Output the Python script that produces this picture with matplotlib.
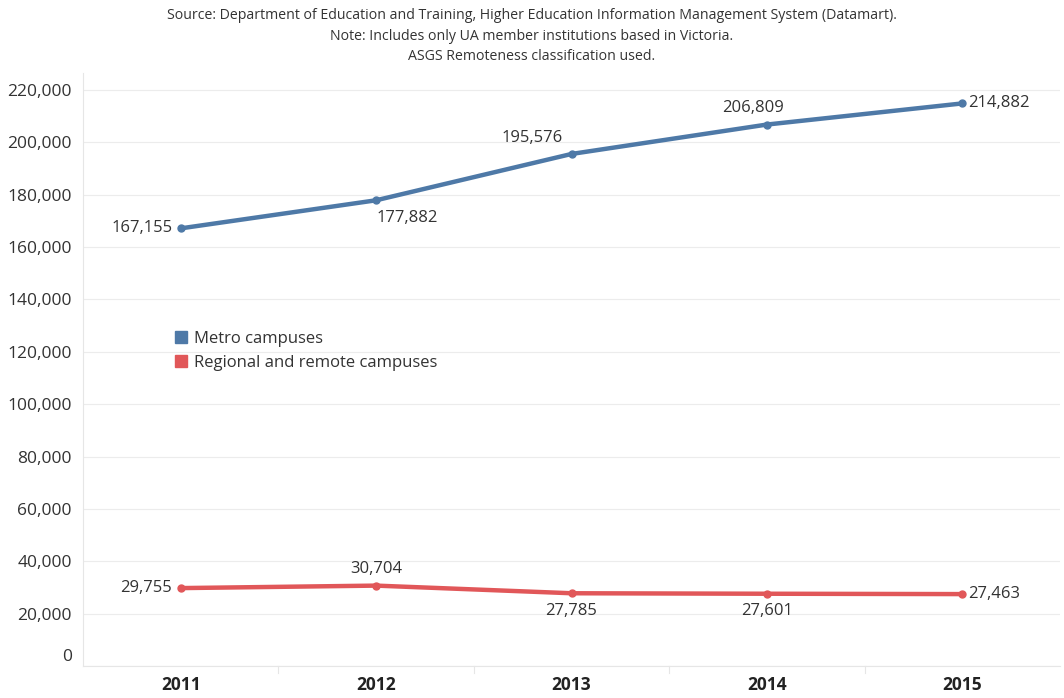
import matplotlib
matplotlib.use("Agg")
import matplotlib.pyplot as plt
from matplotlib.lines import Line2D
from matplotlib.transforms import ScaledTranslation

years = ["2011", "2012", "2013", "2014", "2015"]
metro = [167155, 177882, 195576, 206809, 214882]
regional = [29755, 30704, 27785, 27601, 27463]
yticks = list(range(0, 220001, 20000))

# label placement for each point (dx, dy in points, ha, va)
metro_pos = [(-6, 0, "right", "center"), (0, -7, "left", "top"), (-6, 6, "right", "bottom"),
             (-10, 6, "center", "bottom"), (4, 0, "left", "center")]
regional_pos = [(-6, 0, "right", "center"), (0, 6, "center", "bottom"), (0, -7, "center", "top"),
                (0, -7, "center", "top"), (4, 0, "left", "center")]

blue = "#4e79a7"
red = "#e15759"
txt = "#333333"

plt.rcParams['font.family'] = ['Open Sans', 'DejaVu Sans']

fig = plt.figure(figsize=(10.64, 6.98), dpi=100)
ax = fig.add_axes([83 / 1064, 32 / 698, 977 / 1064, 593 / 698])

x = list(range(len(years)))
ax.plot(x, metro, color=blue, lw=3.2, marker="o", ms=5, solid_capstyle="round", zorder=3)
ax.plot(x, regional, color=red, lw=3.2, marker="o", ms=5, solid_capstyle="round", zorder=3)

for i, v in enumerate(metro):
    dx, dy, ha, va = metro_pos[i]
    ax.annotate(f"{v:,}", (i, v), xytext=(dx, dy), textcoords="offset points",
                ha=ha, va=va, fontsize=12, color=txt)
for i, v in enumerate(regional):
    dx, dy, ha, va = regional_pos[i]
    ax.annotate(f"{v:,}", (i, v), xytext=(dx, dy), textcoords="offset points",
                ha=ha, va=va, fontsize=12, color=txt)

ax.set_xlim(-0.5, len(years) - 0.5)
ax.set_ylim(0, 226500)
ax.set_yticks(yticks)
ax.set_yticklabels([f"{t:,}" for t in yticks], fontsize=12.5, color=txt)
ax.set_xticks(x)
ax.set_xticklabels(years, fontsize=12.5, fontweight="bold", color="#222222")
ax.tick_params(axis="both", length=0, pad=8)
ax.tick_params(axis="x", pad=7)
ax.grid(axis="y", color="#ececec", lw=0.8)
ax.set_axisbelow(True)
for s in ["top", "right"]:
    ax.spines[s].set_visible(False)
ax.spines["left"].set_color("#e6e6e6")
ax.spines["bottom"].set_color("#e6e6e6")

# the zero label sits a little above the baseline
zero_lbl = ax.get_yticklabels()[0]
zero_lbl.set_transform(zero_lbl.get_transform() + ScaledTranslation(0, 11 / 100, fig.dpi_scale_trans))

# column dividers under the axis
for b in [i + 0.5 for i in range(len(years) - 1)]:
    ax.plot([b, b], [0, -0.012], transform=ax.get_xaxis_transform(), color="#e6e6e6",
            lw=0.8, clip_on=False)

handles = [Line2D([], [], marker="s", ls="", color=blue, ms=9),
           Line2D([], [], marker="s", ls="", color=red, ms=9)]
ax.legend(handles, ["Metro campuses", "Regional and remote campuses"], loc="upper left",
          bbox_to_anchor=(0.085, 0.577), frameon=False, fontsize=12, handletextpad=0.3,
          labelspacing=0.5, labelcolor=txt, borderaxespad=0, handlelength=1)

fig.text(0.5, 0.988, "Source: Department of Education and Training, Higher Education Information Management System (Datamart).\n"
         "Note: Includes only UA member institutions based in Victoria.\nASGS Remoteness classification used.",
         ha="center", va="top", fontsize=10.2, color=txt, linespacing=1.5)

fig.savefig("out.png", dpi=100)
